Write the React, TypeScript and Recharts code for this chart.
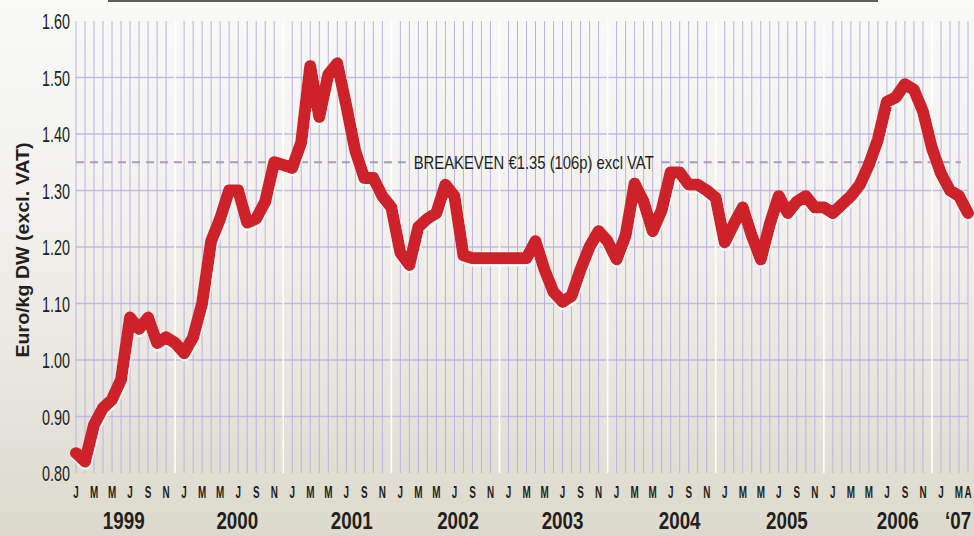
import React from 'react';
import { ComposedChart, Line, XAxis, YAxis, ReferenceLine } from 'recharts';

// Monthly price, Jan 1999 .. Apr 2007 (Euro/kg DW, excl. VAT)
const priceValues: number[] = [
  // 1999
  0.835, 0.82, 0.885, 0.915, 0.93, 0.965, 1.075, 1.055, 1.075, 1.03, 1.04, 1.03,
  // 2000
  1.012, 1.04, 1.1, 1.21, 1.25, 1.3, 1.3, 1.243, 1.25, 1.28, 1.35, 1.345,
  // 2001
  1.34, 1.385, 1.52, 1.43, 1.505, 1.525, 1.45, 1.37, 1.322, 1.322, 1.29, 1.27,
  // 2002
  1.19, 1.168, 1.235, 1.25, 1.26, 1.31, 1.29, 1.185, 1.18, 1.18, 1.18, 1.18,
  // 2003
  1.18, 1.18, 1.18, 1.21, 1.16, 1.12, 1.103, 1.113, 1.16, 1.2, 1.228, 1.21,
  // 2004
  1.178, 1.22, 1.312, 1.28, 1.228, 1.265, 1.332, 1.332, 1.31, 1.31, 1.3, 1.287,
  // 2005
  1.208, 1.24, 1.27, 1.22, 1.178, 1.24, 1.29, 1.26, 1.28, 1.29, 1.27, 1.27,
  // 2006
  1.26, 1.275, 1.29, 1.31, 1.345, 1.39, 1.457, 1.465, 1.488, 1.478, 1.44, 1.375,
  // 2007
  1.33, 1.3, 1.29, 1.26,
];

const monthLetters: string[] = ['J', 'F', 'M', 'A', 'M', 'J', 'J', 'A', 'S', 'O', 'N', 'D'];
const yTicks: number[] = [0.8, 0.9, 1.0, 1.1, 1.2, 1.3, 1.4, 1.5, 1.6];
const innerGridValues: number[] = [0.9, 1.0, 1.1, 1.2, 1.3, 1.4, 1.5];
const yearLabels: string[] = ['1999', '2000', '2001', '2002', '2003', '2004', '2005', '2006', '\u201807'];
const yearLabelPos: number[] = [5.3, 17.9, 30.6, 42.4, 54.0, 67.0, 78.9, 91.2, 97.9];
const breakevenValue = 1.35;
const breakevenText = 'BREAKEVEN \u20AC1.35 (106p) excl VAT';
const yTitle = 'Euro/kg DW (excl. VAT)';

const data = priceValues.map((v, i) => ({ idx: i, price: v }));
const monthIdx = data.map((d) => d.idx);
const lastIdx = priceValues.length - 1;
const monthTicks = monthIdx.filter((i) => i % 2 === 0 || i === lastIdx);

const FONT = "'Liberation Sans', Arial, sans-serif";
const INK = '#231f20';
const Y_LABEL_W = 28;

const YTick = (props: any) => {
  const { x, y, payload } = props;
  return (
    <text
      x={x - Y_LABEL_W}
      y={y + 0.5}
      textAnchor="start"
      dominantBaseline="central"
      fontFamily={FONT}
      fontSize={22}
      fill={INK}
      textLength={Y_LABEL_W}
      lengthAdjust="spacingAndGlyphs"
    >
      {Number(payload.value).toFixed(2)}
    </text>
  );
};

const MonthTick = (props: any) => {
  const { x, y, payload } = props;
  const i = Math.round(payload.value);
  return (
    <g transform={`translate(${x},${y + 19.5})`}>
      <text
        transform="scale(0.6,1)"
        textAnchor="middle"
        dominantBaseline="central"
        fontFamily={FONT}
        fontWeight="bold"
        fontSize={16.5}
        fill={INK}
      >
        {monthLetters[i % 12]}
      </text>
    </g>
  );
};

const YearTick = (props: any) => {
  const { x, y, payload, index } = props;
  const k = typeof index === 'number' ? index : yearLabelPos.indexOf(payload.value);
  return (
    <g transform={`translate(${x},${y + 18})`}>
      <text
        transform="scale(0.8,1)"
        textAnchor="middle"
        dominantBaseline="central"
        fontFamily={FONT}
        fontWeight="bold"
        fontSize={23.5}
        fill={INK}
      >
        {yearLabels[k]}
      </text>
    </g>
  );
};

const YTitle = (props: any) => {
  const vb = props.viewBox || { x: 0, y: 0, width: 0, height: 0 };
  const cx = 23;
  const cy = vb.y + vb.height / 2 + 3;
  return (
    <text
      x={cx}
      y={cy}
      transform={`rotate(-90 ${cx} ${cy})`}
      textAnchor="middle"
      dominantBaseline="central"
      fontFamily={FONT}
      fontWeight="bold"
      fontSize={18}
      fill={INK}
      textLength={215}
      lengthAdjust="spacingAndGlyphs"
    >
      {yTitle}
    </text>
  );
};

const BreakevenLabel = (props: any) => {
  const vb = props.viewBox || { x: 0, y: 0, width: 0, height: 0 };
  const cx = vb.x + vb.width / 2;
  const cy = vb.y + vb.height / 2;
  return (
    <text
      x={cx}
      y={cy}
      textAnchor="middle"
      dominantBaseline="central"
      fontFamily={FONT}
      fontSize={18.5}
      fill={INK}
      textLength={240}
      lengthAdjust="spacingAndGlyphs"
    >
      {breakevenText}
    </text>
  );
};

export default function App() {
  return (
    <div
      style={{
        position: 'absolute',
        left: 0,
        top: 0,
        width: 974,
        height: 536,
        overflow: 'hidden',
        background: 'linear-gradient(to bottom, #f9f9f7 0%, #f2f1ed 40%, #e6e4dc 75%, #dcd9cc 100%)',
      }}
    >
      <svg width={0} height={0} style={{ position: 'absolute' }}>
        <defs>
          <filter id="whiteEdge" x="-5%" y="-5%" width="110%" height="115%">
            <feDropShadow dx="0.8" dy="2.2" stdDeviation="0.5" floodColor="#ffffff" floodOpacity="1" />
          </filter>
        </defs>
      </svg>
      <div style={{ position: 'absolute', left: 108, top: 0, width: 770, height: 2, background: '#5e5e5e' }} />
      <ComposedChart
        width={974}
        height={536}
        data={data}
        margin={{ top: 21, right: 6, bottom: 0, left: 0 }}
      >
        <XAxis
          dataKey="idx"
          type="number"
          domain={[0, lastIdx]}
          ticks={monthTicks}
          interval={0}
          axisLine={false}
          tickLine={false}
          tickSize={0}
          tickMargin={0}
          height={30}
          tick={<MonthTick />}
        />
        <XAxis
          xAxisId="yr"
          dataKey="idx"
          type="number"
          domain={[0, lastIdx]}
          ticks={yearLabelPos}
          interval={0}
          axisLine={false}
          tickLine={false}
          tickSize={0}
          tickMargin={0}
          height={33}
          tick={<YearTick />}
        />
        <YAxis
          type="number"
          domain={[0.8, 1.6]}
          ticks={yTicks}
          interval={0}
          axisLine={false}
          tickLine={false}
          tickSize={0}
          tickMargin={6}
          width={76}
          tick={<YTick />}
          label={<YTitle />}
        />
        {innerGridValues.map((v) => (
          <ReferenceLine key={`h${v}`} y={v} stroke="#c3bbe0" strokeWidth={1.3} ifOverflow="extendDomain" />
        ))}
        {monthIdx.map((i) => (
          <ReferenceLine
            key={`v${i}`}
            x={i}
            stroke={i % 12 === 11 ? '#ffffff' : '#bbb3e0'}
            strokeWidth={i % 12 === 11 ? 1.6 : 1}
          />
        ))}
        <ReferenceLine
          segment={[{ x: 0, y: breakevenValue }, { x: 36.6, y: breakevenValue }]}
          stroke="#a59fbc"
          strokeWidth={2}
          strokeDasharray="8 6"
        />
        <ReferenceLine
          segment={[{ x: 65, y: breakevenValue }, { x: 98.2, y: breakevenValue }]}
          stroke="#a59fbc"
          strokeWidth={2}
          strokeDasharray="8 6"
        />
        <ReferenceLine
          segment={[{ x: 36.6, y: breakevenValue }, { x: 65, y: breakevenValue }]}
          stroke="none"
          label={<BreakevenLabel />}
        />
        <Line
          dataKey="price"
          type="linear"
          stroke="#cd2229"
          strokeWidth={12}
          strokeLinejoin="round"
          strokeLinecap="round"
          dot={false}
          activeDot={false}
          filter="url(#whiteEdge)"
          isAnimationActive={false}
        />
      </ComposedChart>
    </div>
  );
}
